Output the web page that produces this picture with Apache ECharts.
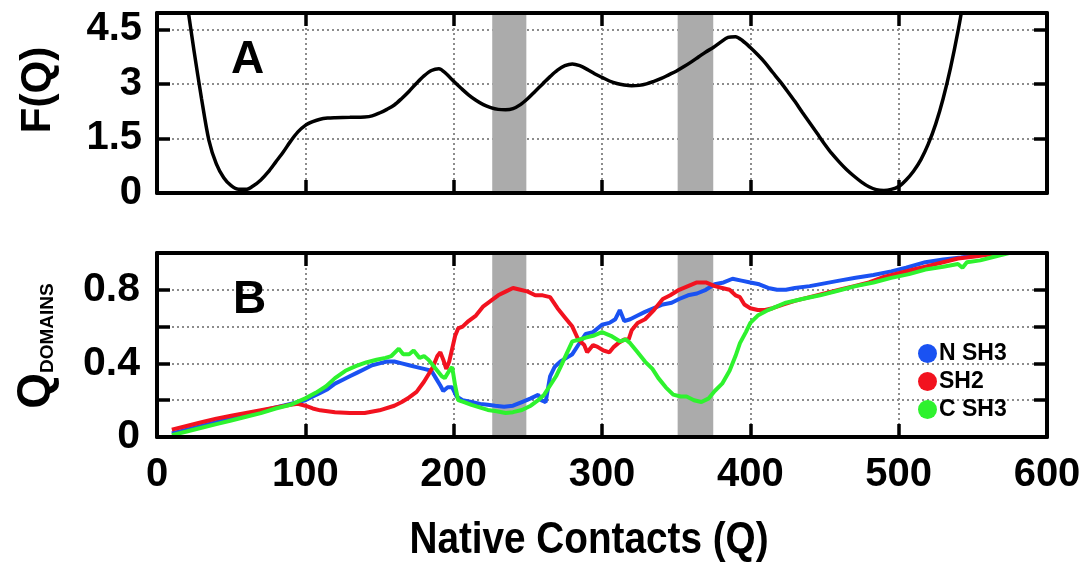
<!DOCTYPE html>
<html>
<head>
<meta charset="utf-8">
<script src="https://cdn.jsdelivr.net/npm/echarts@6/dist/echarts.min.js"></script>
<style>
html,body{margin:0;padding:0;background:#fff;}
#chart{width:1089px;height:566px;}
</style>
</head>
<body>
<div id="chart"></div>
<script>
// ---- Data ----
const fQ =   [18, 20, 25, 30, 35, 40, 45, 50, 55, 60, 65, 70, 75, 80, 85, 90, 95, 100, 105, 110, 115, 120, 130, 140, 145, 150, 155, 160, 165, 170, 175, 180, 185, 190, 195, 200, 205, 210, 215, 220, 225, 230, 235, 240, 245, 250, 255, 260, 265, 270, 275, 280, 285, 290, 295, 300, 305, 310, 315, 320, 325, 330, 335, 340, 345, 350, 355, 360, 365, 370, 375, 380, 385, 390, 395, 400, 405, 410, 415, 420, 425, 430, 435, 440, 445, 450, 455, 460, 465, 470, 475, 480, 485, 490, 495, 500, 505, 510, 515, 520, 525, 530, 535, 540, 545];
const fVal = [5.9, 5.3, 3.9, 2.6, 1.45, 0.8, 0.42, 0.2, 0.1, 0.1, 0.2, 0.36, 0.58, 0.85, 1.12, 1.42, 1.68, 1.86, 1.96, 2.03, 2.06, 2.07, 2.08, 2.09, 2.12, 2.2, 2.3, 2.42, 2.6, 2.8, 3.02, 3.22, 3.37, 3.42, 3.28, 3.07, 2.88, 2.7, 2.55, 2.43, 2.35, 2.3, 2.29, 2.32, 2.43, 2.6, 2.8, 3.0, 3.2, 3.38, 3.5, 3.55, 3.5, 3.4, 3.28, 3.18, 3.08, 3.01, 2.97, 2.95, 2.96, 3.0, 3.07, 3.15, 3.25, 3.35, 3.47, 3.6, 3.74, 3.88, 4.0, 4.15, 4.28, 4.3, 4.18, 4.0, 3.8, 3.58, 3.32, 3.07, 2.8, 2.52, 2.22, 1.93, 1.64, 1.35, 1.08, 0.85, 0.64, 0.46, 0.3, 0.17, 0.09, 0.07, 0.1, 0.18, 0.36, 0.6, 0.92, 1.35, 1.9, 2.6, 3.45, 4.45, 5.6];

const sh2Data = [[10,0.04],[20,0.06],[30,0.08],[40,0.1],[50,0.115],[60,0.13],[70,0.145],[80,0.16],[90,0.175],[95,0.18],[100,0.17],[105,0.155],[110,0.145],[120,0.135],[130,0.13],[140,0.13],[150,0.145],[160,0.17],[165,0.19],[170,0.215],[175,0.245],[180,0.3],[183,0.34],[186,0.38],[189,0.44],[191,0.46],[193,0.42],[195,0.37],[197,0.41],[199,0.48],[201,0.55],[203,0.59],[206,0.6],[210,0.63],[215,0.66],[220,0.71],[225,0.74],[230,0.77],[235,0.79],[240,0.81],[245,0.8],[250,0.79],[255,0.77],[260,0.77],[265,0.76],[270,0.7],[275,0.65],[280,0.6],[284,0.53],[288,0.5],[290,0.46],[294,0.5],[297,0.49],[301,0.47],[305,0.46],[308,0.49],[311,0.51],[315,0.53],[318,0.53],[320,0.58],[324,0.62],[329,0.64],[335,0.69],[341,0.75],[346,0.77],[352,0.8],[358,0.82],[364,0.84],[370,0.84],[376,0.82],[381,0.81],[386,0.8],[390,0.77],[393,0.76],[396,0.72],[400,0.7],[405,0.69],[410,0.69],[415,0.7],[422,0.72],[430,0.74],[440,0.76],[450,0.78],[460,0.8],[470,0.82],[480,0.84],[490,0.87],[500,0.89],[510,0.91],[520,0.93],[530,0.95],[540,0.97],[550,0.98],[560,0.99],[570,1.0],[580,1.01]];

const nSH3Data = [[10,0.02],[20,0.04],[30,0.06],[40,0.08],[50,0.1],[60,0.12],[70,0.14],[80,0.16],[90,0.18],[100,0.2],[105,0.22],[110,0.24],[115,0.26],[120,0.29],[125,0.31],[130,0.33],[135,0.35],[140,0.37],[145,0.39],[150,0.4],[155,0.41],[160,0.41],[165,0.4],[170,0.39],[175,0.38],[180,0.37],[185,0.36],[188,0.32],[191,0.28],[193,0.25],[196,0.27],[199,0.27],[202,0.22],[206,0.2],[212,0.19],[218,0.18],[223,0.175],[228,0.17],[234,0.165],[240,0.17],[246,0.19],[252,0.21],[257,0.23],[259,0.2],[262,0.19],[265,0.33],[268,0.38],[272,0.41],[276,0.43],[280,0.45],[284,0.5],[289,0.56],[294,0.57],[300,0.61],[305,0.62],[309,0.64],[312,0.69],[315,0.63],[319,0.64],[324,0.66],[329,0.68],[335,0.7],[341,0.72],[347,0.73],[352,0.75],[358,0.77],[364,0.78],[370,0.8],[376,0.83],[382,0.84],[388,0.86],[394,0.85],[400,0.84],[406,0.83],[412,0.81],[418,0.8],[424,0.8],[430,0.81],[440,0.82],[450,0.835],[460,0.85],[471,0.865],[483,0.88],[495,0.9],[505,0.92],[518,0.95],[530,0.965],[542,0.975],[555,0.99],[568,1.0],[580,1.01]];

const cSH3Data = [[10,0.01],[20,0.03],[30,0.05],[40,0.07],[50,0.09],[60,0.11],[70,0.13],[80,0.155],[90,0.175],[100,0.21],[107,0.24],[114,0.276],[120,0.32],[127,0.36],[134,0.385],[141,0.405],[148,0.42],[154,0.43],[158,0.44],[163,0.48],[166,0.45],[170,0.45],[173,0.47],[177,0.43],[180,0.44],[183,0.42],[186,0.39],[189,0.36],[192,0.33],[194,0.32],[197,0.36],[199,0.38],[201,0.28],[203,0.2],[207,0.19],[212,0.175],[218,0.16],[223,0.147],[229,0.14],[235,0.13],[240,0.135],[246,0.147],[252,0.17],[257,0.2],[261,0.23],[265,0.28],[269,0.33],[272,0.38],[276,0.45],[280,0.52],[285,0.53],[289,0.54],[294,0.55],[300,0.57],[306,0.55],[312,0.52],[316,0.53],[319,0.51],[324,0.46],[329,0.41],[334,0.37],[338,0.32],[343,0.27],[348,0.23],[353,0.22],[357,0.22],[362,0.2],[367,0.19],[372,0.21],[376,0.25],[381,0.29],[386,0.36],[390,0.44],[393,0.51],[397,0.57],[400,0.62],[405,0.66],[412,0.69],[418,0.71],[424,0.73],[435,0.75],[447,0.77],[459,0.795],[471,0.82],[483,0.84],[495,0.865],[507,0.885],[518,0.91],[530,0.925],[540,0.94],[543,0.92],[546,0.95],[555,0.96],[567,0.985],[580,1.01]];

const bands = [[226, 249], [351, 375]];
const seriesNames = ['N SH3', 'SH2', 'C SH3'];
const xTickLabels = ['0', '100', '200', '300', '400', '500', '600'];
const fTickLabels = ['0', '1.5', '3', '4.5'];
const qTickLabels = ['0', '0.4', '0.8'];

// ---- Styles ----
const FONT = '"Liberation Sans", Arial, sans-serif';
const colors = { 'N SH3': '#1a52f2', 'SH2': '#f2121f', 'C SH3': '#2ef22e' };
const gridDot = { color: '#8c8c8c', width: 2, type: [2, 3] };

function borderAxis(grid, pos, extra) {
  return Object.assign({
    type: 'value', gridIndex: grid, position: pos, min: 0, max: 600, interval: 100,
    z: 10,
    axisLine: { show: true, onZero: false, lineStyle: { color: '#000', width: 4 } },
    axisTick: { show: true, inside: true, length: 13, lineStyle: { color: '#000', width: 3.5 } },
    axisLabel: { show: false },
    splitLine: { show: false }
  }, extra || {});
}
function splitXAxis(grid) {
  return {
    type: 'value', gridIndex: grid, min: 0, max: 600, interval: 100, z: 0,
    axisLine: { show: false }, axisTick: { show: false }, axisLabel: { show: false },
    splitLine: { show: true, lineStyle: gridDot }
  };
}

const bandData = bands.map(b => [{ xAxis: b[0] }, { xAxis: b[1] }]);

const option = {
  animation: false,
  backgroundColor: '#fff',
  grid: [
    { left: 157, right: 42, top: 13, height: 180 },
    { left: 157, right: 42, top: 253, height: 184 }
  ],
  xAxis: [
    borderAxis(0, 'bottom'),
    borderAxis(0, 'top'),
    splitXAxis(0),
    borderAxis(1, 'bottom', {
      axisLabel: {
        show: true, margin: 18, color: '#000',
        fontFamily: FONT, fontWeight: 'bold', fontSize: 40,
        formatter: v => xTickLabels[Math.round(v / 100)] || ''
      }
    }),
    borderAxis(1, 'top'),
    splitXAxis(1)
  ],
  yAxis: [
    {
      type: 'value', gridIndex: 0, position: 'left', min: 0, max: 4.95, interval: 1.5,
      axisLine: { show: true, onZero: false, lineStyle: { color: '#000', width: 4 } },
      axisTick: { show: true, inside: true, length: 13, lineStyle: { color: '#000', width: 3.5 } },
      axisLabel: {
        show: true, margin: 15, color: '#000', fontFamily: FONT, fontWeight: 'bold', fontSize: 40,
        showMaxLabel: false,
        formatter: v => { const i = Math.round(v / 1.5); return Math.abs(v - i * 1.5) < 1e-6 ? (fTickLabels[i] || '') : ''; }
      },
      splitLine: { show: true, lineStyle: gridDot }
    },
    {
      type: 'value', gridIndex: 0, position: 'right', min: 0, max: 4.95, interval: 1.5,
      axisLine: { show: true, onZero: false, lineStyle: { color: '#000', width: 4 } },
      axisTick: { show: true, inside: true, length: 13, lineStyle: { color: '#000', width: 3.5 } },
      axisLabel: { show: false }, splitLine: { show: false }
    },
    {
      type: 'value', gridIndex: 1, position: 'left', min: 0, max: 1, interval: 0.2,
      axisLine: { show: true, onZero: false, lineStyle: { color: '#000', width: 4 } },
      axisTick: { show: true, inside: true, length: 13, lineStyle: { color: '#000', width: 3.5 } },
      axisLabel: {
        show: true, margin: 17, color: '#000', fontFamily: FONT, fontWeight: 'bold', fontSize: 41,
        formatter: v => { const k = Math.round(v * 10); return k === 0 ? qTickLabels[0] : k === 4 ? qTickLabels[1] : k === 8 ? qTickLabels[2] : ''; }
      },
      splitLine: { show: true, lineStyle: gridDot }
    },
    {
      type: 'value', gridIndex: 1, position: 'right', min: 0, max: 1, interval: 0.2,
      axisLine: { show: true, onZero: false, lineStyle: { color: '#000', width: 4 } },
      axisTick: { show: true, inside: true, length: 13, lineStyle: { color: '#000', width: 3.5 } },
      axisLabel: { show: false }, splitLine: { show: false }
    }
  ],
  legend: {
    data: seriesNames,
    orient: 'vertical', left: 913, top: 337,
    icon: 'circle', itemWidth: 19, itemHeight: 19, itemGap: 5,
    textStyle: { color: '#000', fontFamily: FONT, fontWeight: 'bold', fontSize: 23, padding: [0, 0, 0, -3] }
  },
  graphic: [
    { type: 'text', x: 231, y: 37, z: 20, style: { text: 'A', font: 'bold 46px ' + FONT, fill: '#000' } },
    { type: 'text', x: 233, y: 277, z: 20, style: { text: 'B', font: 'bold 46px ' + FONT, fill: '#000' } },
    { type: 'text', x: 38, y: 90, rotation: Math.PI / 2, z: 20,
      style: { text: 'F(Q)', font: 'bold 42px ' + FONT, fill: '#000', align: 'center', verticalAlign: 'middle' } },
    { type: 'text', x: 36, y: 346, rotation: Math.PI / 2, z: 20,
      style: {
        text: '{q|Q}{s|DOMAINS}', fill: '#000', align: 'center', verticalAlign: 'middle',
        rich: {
          q: { font: 'bold 46px ' + FONT, fill: '#000' },
          s: { font: 'bold 19px ' + FONT, fill: '#000', verticalAlign: 'bottom', padding: [0, 0, 2, 0] }
        }
      } },
    { type: 'text', x: 589, y: 541, z: 20, scaleX: 0.86,
      style: { text: 'Native Contacts (Q)', font: 'bold 45px ' + FONT, fill: '#000', align: 'center', verticalAlign: 'middle' } }
  ],
  series: [
    { type: 'line', xAxisIndex: 2, yAxisIndex: 0, data: [], silent: true, z: 1,
      markArea: { silent: true, itemStyle: { color: '#ababab', opacity: 1 }, data: bandData } },
    { type: 'line', xAxisIndex: 5, yAxisIndex: 2, data: [], silent: true, z: 1,
      markArea: { silent: true, itemStyle: { color: '#ababab', opacity: 1 }, data: bandData } },
    { name: 'F(Q)', type: 'line', xAxisIndex: 2, yAxisIndex: 0, z: 5, showSymbol: false, smooth: 0.3,
      data: fQ.map((q, i) => [q, fVal[i]]),
      lineStyle: { color: '#000', width: 3.5 } },
    { name: 'N SH3', type: 'line', xAxisIndex: 5, yAxisIndex: 2, z: 5, showSymbol: false,
      data: nSH3Data, color: colors['N SH3'], lineStyle: { color: colors['N SH3'], width: 4 } },
    { name: 'SH2', type: 'line', xAxisIndex: 5, yAxisIndex: 2, z: 6, showSymbol: false,
      data: sh2Data, color: colors['SH2'], lineStyle: { color: colors['SH2'], width: 4 } },
    { name: 'C SH3', type: 'line', xAxisIndex: 5, yAxisIndex: 2, z: 7, showSymbol: false,
      data: cSH3Data, color: colors['C SH3'], lineStyle: { color: colors['C SH3'], width: 4 } }
  ]
};

const chart = echarts.init(document.getElementById('chart'), null, { renderer: 'canvas' });
chart.setOption(option);
</script>
</body>
</html>
